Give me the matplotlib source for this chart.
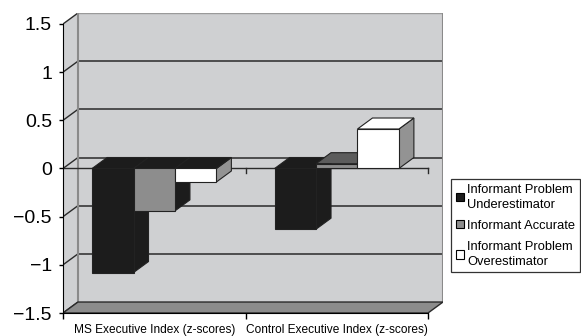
import numpy as np
import matplotlib.pyplot as plt
from matplotlib.patches import Patch

plt.rcParams['font.family'] = ['Liberation Sans', 'DejaVu Sans']

categories = ['MS Executive Index (z-scores)', 'Control Executive Index (z-scores)']
series = ['Informant Problem\nUnderestimator', 'Informant Accurate',
          'Informant Problem\nOverestimator']
underestimator = [-1.08, -0.63]
accurate = [-0.44, 0.05]
overestimator = [-0.14, 0.41]
yticks = [-1.5, -1, -0.5, 0, 0.5, 1, 1.5]
ytick_labels = ['\u22121.5', '\u22121', '\u22120.5', '0', '0.5', '1', '1.5']

# fake 3-D look: depth offset (x in category units, y in z-score units)
dx, dy = 0.082, 0.114
w = 0.227
front = ['#1c1c1c', '#8d8d8d', '#ffffff']
top_pos = ['#1c1c1c', '#5c5c5c', '#ffffff']
side = ['#1c1c1c', '#1c1c1c', '#939393']
wall = '#cfd0d2'
floor = '#8c8c8c'
line = '#2a2a2a'

fig = plt.figure(figsize=(5.81, 3.36), dpi=100)
ax = fig.add_axes([63/581, 23/336, 380/581, 300/336])
lo, hi = yticks[0], yticks[-1]
n = len(categories)
ax.set_xlim(0, n + dx)
ax.set_ylim(lo, hi + dy)
ax.patch.set_visible(False)

# walls
ax.fill([0, dx, dx, 0], [lo, lo+dy, hi+dy, hi], color=wall, lw=0, zorder=0)
ax.fill([dx, n+dx, n+dx, dx], [lo+dy, lo+dy, hi+dy, hi+dy], color=wall, lw=0, zorder=0)
for y in yticks[1:-1]:
    ax.plot([dx, n+dx], [y+dy, y+dy], color=line, lw=1.1, zorder=1)
for y in yticks:
    ax.plot([0, dx], [y, y+dy], color=line, lw=1, zorder=1)
ax.plot([dx, n+dx], [hi+dy]*2, color='#9a9a9a', lw=1, zorder=1)
ax.plot([dx, dx], [lo+dy, hi+dy], color='#8a8a8a', lw=1.5, zorder=1)
ax.plot([n+dx]*2, [lo+dy, hi+dy], color='#8a8a8a', lw=1.5, zorder=1)

# floor
ax.fill([0, n, n+dx, dx], [lo, lo, lo+dy, lo+dy], facecolor=floor,
        edgecolor=line, lw=1, zorder=1)

# zero line in front
ax.plot([0, n], [0, 0], color=line, lw=1, zorder=2)
for i in range(1, n+1):
    ax.plot([i, i], [0, -0.05], color=line, lw=1, zorder=2)

# bars
values = [underestimator, accurate, overestimator]
for c in range(n):
    for s in range(3):
        v = values[s][c]
        l = c + 0.5 + (s - 1.5) * w
        r = l + w
        cap = top_pos[s] if v > 0 else '#1c1c1c'
        top = max(v, 0)
        kw = dict(edgecolor='#222222', lw=0.8, zorder=3 + c*3 + s)
        ax.fill([r, r+dx, r+dx, r], [0, dy, v+dy, v], facecolor=side[s], **kw)
        ax.fill([l, l+dx, r+dx, r], [top, top+dy, top+dy, top], facecolor=cap, **kw)
        ax.fill([l, r, r, l], [0, 0, v, v], facecolor=front[s], **kw)

# axes
for sp in ['top', 'right']:
    ax.spines[sp].set_visible(False)
ax.spines['left'].set_bounds(lo, hi)
ax.spines['bottom'].set_bounds(0, n)
ax.spines['left'].set_zorder(20)
ax.spines['bottom'].set_zorder(20)
ax.set_yticks(yticks, ytick_labels)
ax.tick_params(axis='y', direction='out', length=3, width=1, labelsize=14, pad=5)
ax.set_xticks(range(n+1), [''] * (n+1))
ax.set_xticks(np.arange(n) + 0.5, categories, minor=True)
ax.tick_params(axis='x', which='major', length=4, width=1)
ax.tick_params(axis='x', which='minor', length=0, labelsize=8.6, pad=8)

handles = [Patch(facecolor=front[s], edgecolor='black', lw=0.8) for s in range(3)]
leg = fig.legend(handles, series, loc='upper left',
                 bbox_to_anchor=(451/581, 1 - 179/336), frameon=True,
                 fancybox=False, fontsize=9.3, handlelength=0.65,
                 handleheight=0.65, handletextpad=0.25, labelspacing=0.7,
                 borderpad=0.35, borderaxespad=0)
leg.get_frame().set_edgecolor('black')
leg.get_frame().set_linewidth(0.9)
for t in leg.get_texts():
    t.set_linespacing(1.35)

fig.savefig('out.png', dpi=100)
